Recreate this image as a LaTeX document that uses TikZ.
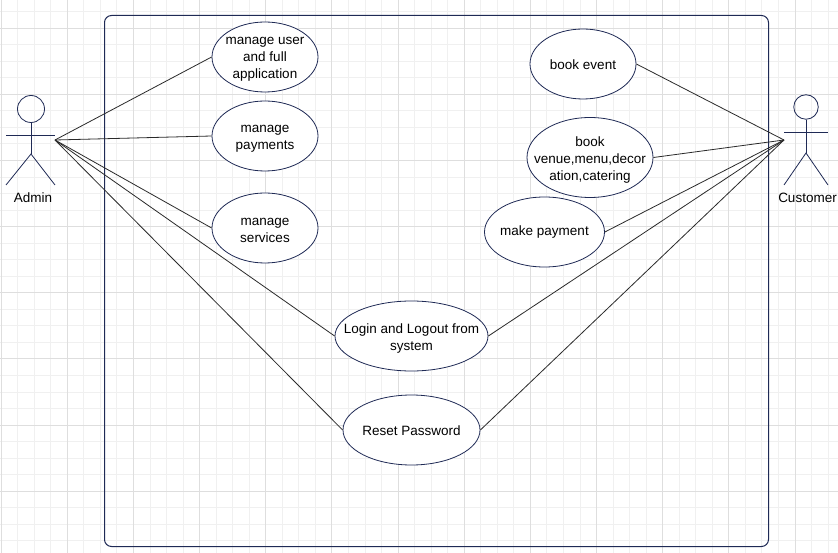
\documentclass[tikz,border=0pt]{standalone}
\usepackage{fontspec}
\setmainfont{Liberation Sans}
\usetikzlibrary{shapes.geometric}
\definecolor{navy}{HTML}{1F2A55}
\definecolor{gridmaj}{HTML}{DEDEDE}
\definecolor{gridmin}{HTML}{F0F0F0}
\definecolor{conn}{HTML}{2A2A2A}
\tikzset{
  x=1pt,y=-1pt,
  usecase/.style={draw=navy,fill=white,ellipse,inner sep=0pt,line width=0.8pt},
  casetext/.style={align=center,font=\fontsize{13.5}{17}\selectfont,text=black,inner sep=0pt,yshift=-2.5pt},
  onelinetext/.style={casetext,yshift=2pt},
  actorline/.style={draw=navy,line width=0.8pt},
  link/.style={draw=conn,line width=0.8pt},
  boundary/.style={draw=navy,line width=1pt,rounded corners=7pt},
  actorlabel/.style={font=\fontsize{13.5}{16}\selectfont,inner sep=0pt,text=black},
}
\begin{document}
\begin{tikzpicture}
\useasboundingbox (0,0) rectangle (838,553);
\fill[white] (0,0) rectangle (838,553);
% minor grid
\foreach \i in {0,...,51}{
  \draw[gridmin,line width=0.7pt] ({1+16.54*\i},0) -- ({1+16.54*\i},553);
}
\foreach \j in {0,...,33}{
  \draw[gridmin,line width=0.7pt] (0,{11.5+16.54*\j}) -- (838,{11.5+16.54*\j});
}
% major grid
\foreach \i in {0,...,12}{
  \draw[gridmaj,line width=0.8pt] ({1+66.17*\i},0) -- ({1+66.17*\i},553);
}
\foreach \j in {0,...,7}{
  \draw[gridmaj,line width=0.8pt] (0,{28+66.17*\j}) -- (838,{28+66.17*\j});
}
% system boundary
\draw[boundary] (104.5,15.5) rectangle (768.5,546.5);
% actors
\coordinate (adminhand) at (55,140);
\coordinate (custhand) at (784,140);
\node[draw=navy,circle,line width=0.8pt,minimum size=27pt,inner sep=0pt] (adminhead) at (31,109) {};
\coordinate (adminhip) at (31,154);
\draw[actorline] (adminhead.south) -- (adminhip);
\draw[actorline] (6,135) -- (55,135);
\draw[actorline] (6,185) -- (adminhip) -- (55,185);
\node[actorlabel] (adminlabel) at (33,198) {Admin};
\node[draw=navy,circle,line width=0.8pt,minimum size=24.5pt,inner sep=0pt] (custhead) at (806,107) {};
\coordinate (custhip) at (806,153);
\draw[actorline] (custhead.south) -- (custhip);
\draw[actorline] (784,132) -- (828,132);
\draw[actorline] (784,185) -- (custhip) -- (828,185);
\node[actorlabel] (custlabel) at (807.5,198) {Customer};
% use cases
\node[usecase,minimum width=106pt,minimum height=70pt,label={[casetext]center:{manage user\\and full\\application}}] (muser) at (265,57) {};
\node[usecase,minimum width=106pt,minimum height=70pt,label={[casetext]center:{manage\\payments}}] (mpay) at (265,136) {};
\node[usecase,minimum width=106pt,minimum height=70pt,label={[casetext]center:{manage\\services}}] (mserv) at (265,228) {};
\node[usecase,minimum width=106pt,minimum height=70pt,label={[onelinetext]center:{book event}}] (bevent) at (583,64) {};
\node[usecase,minimum width=126pt,minimum height=80pt,label={[casetext]center:{book\\venue,menu,decor\\ation,catering}}] (bvenue) at (590,157.5) {};
\node[usecase,minimum width=120pt,minimum height=70pt,label={[onelinetext]center:{make payment}}] (mkpay) at (544.5,232) {};
\node[usecase,minimum width=153pt,minimum height=70pt,label={[casetext]center:{Login and Logout from\\system}}] (login) at (411.5,336) {};
\node[usecase,minimum width=137pt,minimum height=70pt,label={[onelinetext]center:{Reset Password}}] (reset) at (411.5,430) {};
% connectors
\foreach \t in {muser,mpay,mserv,login,reset}{
  \draw[link] (adminhand) -- (\t.west);
}
\foreach \t in {bevent,bvenue,mkpay,login,reset}{
  \draw[link] (custhand) -- (\t.east);
}
\end{tikzpicture}
\end{document}
